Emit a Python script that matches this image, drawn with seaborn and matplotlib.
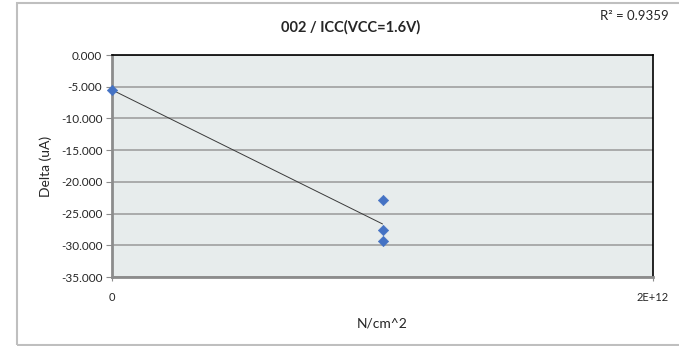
import numpy as np
import pandas as pd
import seaborn as sns
import matplotlib.pyplot as plt
from matplotlib.patches import Rectangle

# Data
force = [0.0, 1.0e12, 1.0e12, 1.0e12]          # N/cm^2
delta = [-5.5, -22.9, -27.6, -29.4]             # uA
y_ticks = [0, -5, -10, -15, -20, -25, -30, -35]
x_ticks = [0, 2e12]
x_tick_labels = ["0", "2E+12"]
title = "002 / ICC(VCC=1.6V)"
r2_text = "R\u00b2 = 0.9359"


def plot_chart(out_file: str = "out.png"):
    df = pd.DataFrame({"N/cm^2": force, "Delta (uA)": delta})

    sns.set_style("white")
    plt.rcParams['font.family'] = ['Lato', 'DejaVu Sans']

    fig = plt.figure(figsize=(6.79, 3.46), dpi=100)
    ax = fig.add_axes([0.165, 0.1994, 0.7967, 0.6416])

    # outer chart border (Excel style)
    fig.patches.append(Rectangle((0.025, 0.003), 1.2, 0.988, transform=fig.transFigure,
                                 fill=False, edgecolor='#BFBFBF', linewidth=1.5))

    ax.set_facecolor('#E7ECEC')

    # linear trendline
    sns.regplot(data=df, x="N/cm^2", y="Delta (uA)", ax=ax, scatter=False, ci=None,
                truncate=True, line_kws={'color': '#3A3A3A', 'linewidth': 0.7})
    # markers
    sns.scatterplot(data=df, x="N/cm^2", y="Delta (uA)", ax=ax, marker='D', s=28,
                    color='#4472C4', edgecolor='#4472C4', zorder=5, clip_on=False)

    ax.set_xlim(0, 2e12)
    ax.set_ylim(-35, 0)
    ax.set_xticks(x_ticks)
    ax.set_xticklabels(x_tick_labels, fontsize=8)
    ax.set_yticks(y_ticks)
    ax.set_yticklabels([f"{v:.3f}" for v in y_ticks], fontsize=8.5)

    ax.yaxis.grid(True, color='#A0A0A0', linewidth=1.2)
    ax.xaxis.grid(False)
    ax.set_axisbelow(True)

    for side in ['left', 'bottom']:
        ax.spines[side].set_color('#8C8C8C')
        ax.spines[side].set_linewidth(2)
    for side in ['top', 'right']:
        ax.spines[side].set_color('black')
        ax.spines[side].set_linewidth(1.2)

    ax.tick_params(axis='y', left=True, length=4, color='#8C8C8C', pad=3)
    ax.tick_params(axis='x', bottom=True, length=3, color='#8C8C8C', pad=8)

    ax.set_xlabel("N/cm^2", fontsize=10, labelpad=10)
    ax.set_ylabel("Delta (uA)", fontsize=10, labelpad=6)

    fig.text(0.517, 0.922, title, ha='center', va='center', fontsize=10.5, fontweight='bold')
    fig.text(0.883, 0.955, r2_text, ha='left', va='center', fontsize=9.5)

    plt.savefig(out_file, dpi=100)
    plt.close()


if __name__ == "__main__":
    plot_chart("out.png")
